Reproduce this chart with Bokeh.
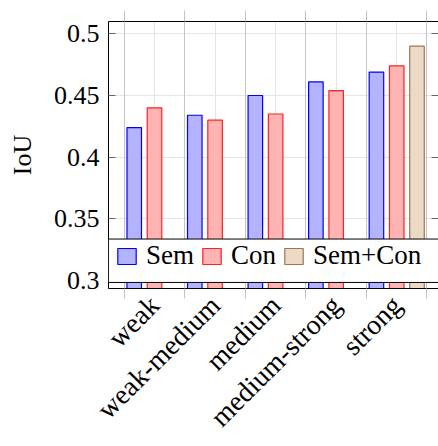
from math import pi

from bokeh.plotting import figure
from bokeh.models import (ColumnDataSource, FixedTicker, LinearAxis, Range1d, Legend,
                          LegendItem, CustomJSTickFormatter, BoxAnnotation, Grid)
from bokeh.transform import dodge
from bokeh.embed import file_html
from bokeh.resources import INLINE

# IoU per perturbation strength
categories = ["weak", "weak-medium", "medium", "medium-strong", "strong"]
sem = [0.424, 0.434, 0.450, 0.461, 0.469]
con = [0.440, 0.430, 0.435, 0.454, 0.474]
semcon_categories = ["strong"]
semcon = [0.490]
y_ticks = [0.30, 0.35, 0.40, 0.45, 0.50]

FONT = "Liberation Serif"
GRID = "#c4c4c4"
X_START, X_END = -0.76, 4.69
Y_START, Y_END = 0.2935, 0.51
BAR_W = 0.24
SHIFT = 0.335

x_pos = list(range(len(categories)))
src_sem = ColumnDataSource(dict(x=x_pos, top=sem))
src_con = ColumnDataSource(dict(x=x_pos, top=con))
src_semcon = ColumnDataSource(dict(x=[categories.index(c) for c in semcon_categories], top=semcon))

p = figure(width=438, height=446, output_backend="svg", toolbar_location=None,
           x_range=Range1d(X_START, X_END), y_range=Range1d(Y_START, Y_END),
           x_axis_location=None, y_axis_location=None,
           min_border_left=108, min_border_top=21, min_border_right=0, min_border_bottom=0)
p.outline_line_color = None
p.background_fill_color = "white"
p.border_fill_color = "white"

r_sem = p.vbar(x=dodge("x", -SHIFT), top="top", bottom=0, width=BAR_W, source=src_sem,
               fill_color="#b3b3ff", line_color="#0000ff", line_width=1.2)
r_con = p.vbar(x=dodge("x", 0.0), top="top", bottom=0, width=BAR_W, source=src_con,
               fill_color="#ffb3b3", line_color="#ff2020", line_width=1.2)
r_semcon = p.vbar(x=dodge("x", SHIFT), top="top", bottom=0, width=BAR_W, source=src_semcon,
                  fill_color="#ecd9c6", line_color="#9b7653", line_width=1.2)

# x ticks sit between the groups; labels sit under each group
half_steps = [i - 0.5 for i in range(len(categories) + 1)]
x_ticker = FixedTicker(ticks=list(range(len(categories))), minor_ticks=half_steps)
no_labels = CustomJSTickFormatter(code="return '';")

below = LinearAxis(ticker=x_ticker,
                   major_label_overrides={i: c for i, c in enumerate(categories)},
                   major_label_orientation=pi / 4,
                   major_label_text_font=FONT, major_label_text_font_size="28px",
                   major_label_text_color="black", major_label_standoff=2,
                   major_tick_in=0, major_tick_out=0,
                   minor_tick_in=0, minor_tick_out=10, minor_tick_line_color=GRID,
                   axis_line_color="black", axis_line_width=1)
p.add_layout(below, "below")

above = LinearAxis(ticker=FixedTicker(ticks=[], minor_ticks=half_steps), formatter=no_labels,
                   major_label_standoff=0,
                   major_tick_in=0, major_tick_out=0,
                   minor_tick_in=0, minor_tick_out=11, minor_tick_line_color=GRID,
                   axis_line_color="black", axis_line_width=1)
p.add_layout(above, "above")

y_fmt = CustomJSTickFormatter(code="return String(parseFloat(tick.toFixed(2)));")
left = LinearAxis(ticker=FixedTicker(ticks=y_ticks), formatter=y_fmt,
                  axis_label="IoU", axis_label_text_font=FONT,
                  axis_label_text_font_size="26px", axis_label_text_font_style="normal",
                  axis_label_text_color="black", axis_label_standoff=14,
                  major_label_text_font=FONT, major_label_text_font_size="26px",
                  major_label_text_color="black", major_label_standoff=9,
                  major_tick_in=7, major_tick_out=0, major_tick_line_color="#666666",
                  minor_tick_in=0, minor_tick_out=0,
                  axis_line_color="black", axis_line_width=1)
p.add_layout(left, "left")

right = LinearAxis(ticker=FixedTicker(ticks=y_ticks), formatter=no_labels,
                   major_label_standoff=0,
                   major_tick_in=7, major_tick_out=0, major_tick_line_color="#666666",
                   minor_tick_in=0, minor_tick_out=0, axis_line_color=None)
p.add_layout(right, "right")

p.add_layout(Grid(dimension=0, ticker=x_ticker, grid_line_color=None,
                  minor_grid_line_color=GRID, minor_grid_line_width=1))

# legend panel across the lower part of the axes
p.add_layout(BoxAnnotation(left=X_START, right=X_END, bottom=0.2984, top=0.3336,
                           fill_color="white", fill_alpha=1.0,
                           line_color="black", line_width=1, line_alpha=1.0))

legend = Legend(items=[LegendItem(label="Sem", renderers=[r_sem]),
                       LegendItem(label="Con", renderers=[r_con]),
                       LegendItem(label="Sem+Con", renderers=[r_semcon])],
                orientation="horizontal", location=(7, 17),
                border_line_color=None, background_fill_alpha=0.0,
                padding=9, spacing=6, margin=0,
                glyph_width=23, glyph_height=20, label_standoff=8,
                label_text_font=FONT, label_text_font_size="27px",
                label_text_color="black")
p.add_layout(legend)

open("out.html", "w").write(file_html(p, INLINE))
